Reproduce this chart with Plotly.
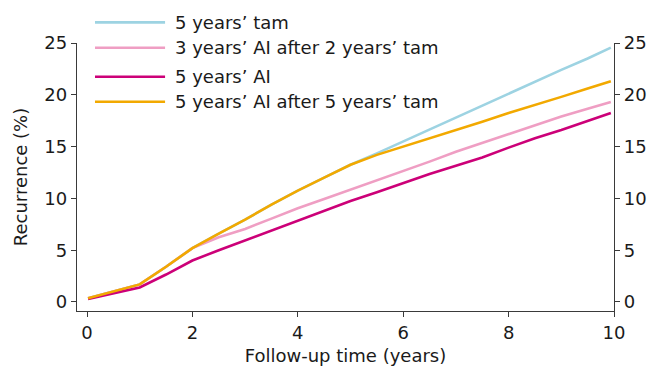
import plotly.graph_objects as go

# ---- data ----
years = [0.02, 0.5, 1.0, 1.5, 2.0, 2.5, 3.0, 3.5, 4.0, 4.5, 5.0, 5.5, 6.0, 6.5, 7.0,
         7.5, 8.0, 8.5, 9.0, 9.5, 9.94]

tam_5y = [0.35, 1.0, 1.7, 3.4, 5.2, 6.6, 7.95, 9.4, 10.75, 12.0, 13.25, 14.35, 15.5, 16.65,
          17.85, 19.0, 20.15, 21.3, 22.4, 23.5, 24.55]
ai3_after_tam2 = [0.35, 1.0, 1.7, 3.4, 5.2, 6.25, 7.05, 8.05, 9.05, 9.95, 10.85, 11.7, 12.6,
                  13.55, 14.5, 15.35, 16.2, 17.05, 17.9, 18.65, 19.3]
ai_5y = [0.3, 0.85, 1.4, 2.65, 4.0, 5.0, 5.95, 6.95, 7.9, 8.85, 9.75, 10.6, 11.5, 12.35,
         13.15, 13.95, 14.9, 15.8, 16.6, 17.5, 18.25]
ai5_after_tam5 = [0.35, 1.0, 1.7, 3.4, 5.2, 6.6, 7.95, 9.4, 10.75, 12.0, 13.25, 14.2, 15.0,
                  15.76, 16.6, 17.4, 18.25, 19.0, 19.8, 20.6, 21.3]

series_names = ["5 years\u2019 tam", "3 years\u2019 AI after 2 years\u2019 tam",
                "5 years\u2019 AI", "5 years\u2019 AI after 5 years\u2019 tam"]
series_values = [tam_5y, ai3_after_tam2, ai_5y, ai5_after_tam5]
series_colors = ["#9dd3e2", "#ef9ec3", "#cc0078", "#f2a900"]

x_ticks = [0, 2, 4, 6, 8, 10]
y_ticks = [0, 5, 10, 15, 20, 25]

FONT = "DejaVu Sans, Liberation Sans, Arial, sans-serif"
TXT = "#1a1a1a"
AX = "#3a3a3a"
FS = 18

fig = go.Figure()
n = len(series_names)
for i, (name, vals, col) in enumerate(zip(series_names, series_values, series_colors)):
    # last series (drawn on top) is tied to the right-hand axis so that axis is rendered
    fig.add_trace(go.Scatter(x=years, y=vals, mode="lines", name=name,
                             yaxis="y2" if i == n - 1 else "y",
                             line=dict(color=col, width=2.6), showlegend=False))

# manual legend (long line samples as in the reference)
leg_y = [1.077, 0.9825, 0.8743, 0.781]
for name, col, ly in zip(series_names, series_colors, leg_y):
    fig.add_shape(type="line", xref="paper", yref="paper", x0=0.0335, x1=0.164,
                  y0=ly, y1=ly, line=dict(color=col, width=2.6))
    fig.add_annotation(xref="paper", yref="paper", x=0.178, y=ly, text=name,
                       showarrow=False, xanchor="left", yanchor="middle",
                       font=dict(size=FS, color=TXT, family=FONT))

yrange = [-0.87, 25]
axis_common = dict(showgrid=False, zeroline=False, showline=True, linecolor=AX,
                   linewidth=1.3, ticks="outside", ticklen=5, tickwidth=1.3,
                   tickcolor=AX, automargin=False,
                   tickfont=dict(size=FS, color=TXT, family=FONT))

fig.update_layout(
    template="none",
    width=653, height=368,
    margin=dict(l=77, r=39, t=43, b=57, autoexpand=False),
    paper_bgcolor="white", plot_bgcolor="white",
    font=dict(family=FONT, size=FS, color=TXT),
    xaxis=dict(range=[-0.19, 10], tickvals=x_ticks, **axis_common,
               title=dict(text="Follow-up time (years)", standoff=7,
                          font=dict(size=FS, family=FONT, color=TXT))),
    yaxis=dict(range=yrange, tickvals=y_ticks, **axis_common,
               title=dict(text="Recurrence (%)", standoff=12,
                          font=dict(size=FS, family=FONT, color=TXT))),
    yaxis2=dict(range=yrange, tickvals=y_ticks, overlaying="y", side="right",
                anchor="x", **axis_common),
    showlegend=False,
)

fig.write_html("out.html", config={"displayModeBar": False},
               post_script="document.body.style.margin='0';"
                           "document.body.style.overflow='hidden';")
